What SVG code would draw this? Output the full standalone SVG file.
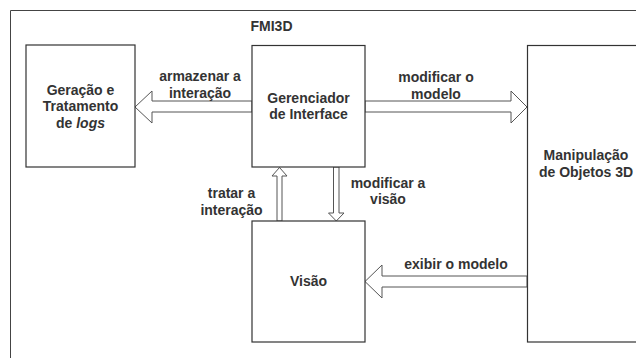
<svg xmlns="http://www.w3.org/2000/svg" width="636" height="358" viewBox="0 0 636 358">
<style>
.box{fill:#fff;stroke:#333;stroke-width:1.2}
.arr{fill:#fff;stroke:#555;stroke-width:1}
text{font-family:"Liberation Sans",Arial,sans-serif;font-weight:bold;font-size:14px;fill:#333;text-anchor:middle}
</style>
<rect width="636" height="358" fill="#fff"/>
<path d="M10.5 360 V10.5 H640" fill="none" stroke="#444" stroke-width="1"/>
<text x="271.5" y="31">FMI3D</text>
<g id="connectors">
<polygon class="arr" points="252,101 152,101 152,91 135,107 152,123 152,112 252,112"/>
<polygon class="arr" points="365,101 511,101 511,91 527,107 511,123 511,112 365,112"/>
<polygon class="arr" points="277,221 277,176 272,176 279.5,167.5 287,176 282,176 282,221"/>
<polygon class="arr" points="333.5,167 333.5,213 328.5,213 336.3,221 344,213 339,213 339,167"/>
<polygon class="arr" points="527,276 382,276 382,265 365,281.5 382,298 382,287 527,287"/>
<text x="200" y="81">armazenar a</text>
<text x="200" y="97.5">interação</text>
<text x="436" y="82">modificar o</text>
<text x="436" y="98.5">modelo</text>
<text x="231.5" y="198">tratar a</text>
<text x="231.5" y="214.5">interação</text>
<text x="388" y="187.5">modificar a</text>
<text x="388" y="204">visão</text>
<text x="456" y="269">exibir o modelo</text>
</g>
<g id="geracao">
<rect class="box" x="26" y="45" width="109" height="122"/>
<text x="80.5" y="94.5">Geração e</text>
<text x="80.5" y="111">Tratamento</text>
<text x="80.5" y="127.5">de <tspan font-style="italic">logs</tspan></text>
</g>
<g id="gerenciador">
<rect class="box" x="252" y="45.5" width="113" height="121.5"/>
<text x="308.5" y="102.5">Gerenciador</text>
<text x="308.5" y="119">de Interface</text>
</g>
<g id="visao">
<rect class="box" x="252" y="221" width="113" height="121"/>
<text x="308.5" y="285.5">Visão</text>
</g>
<g id="manipulacao">
<rect class="box" x="527.5" y="45.5" width="120" height="296.5"/>
<text x="586" y="160">Manipulação</text>
<text x="586" y="176.5">de Objetos 3D</text>
</g>
</svg>
